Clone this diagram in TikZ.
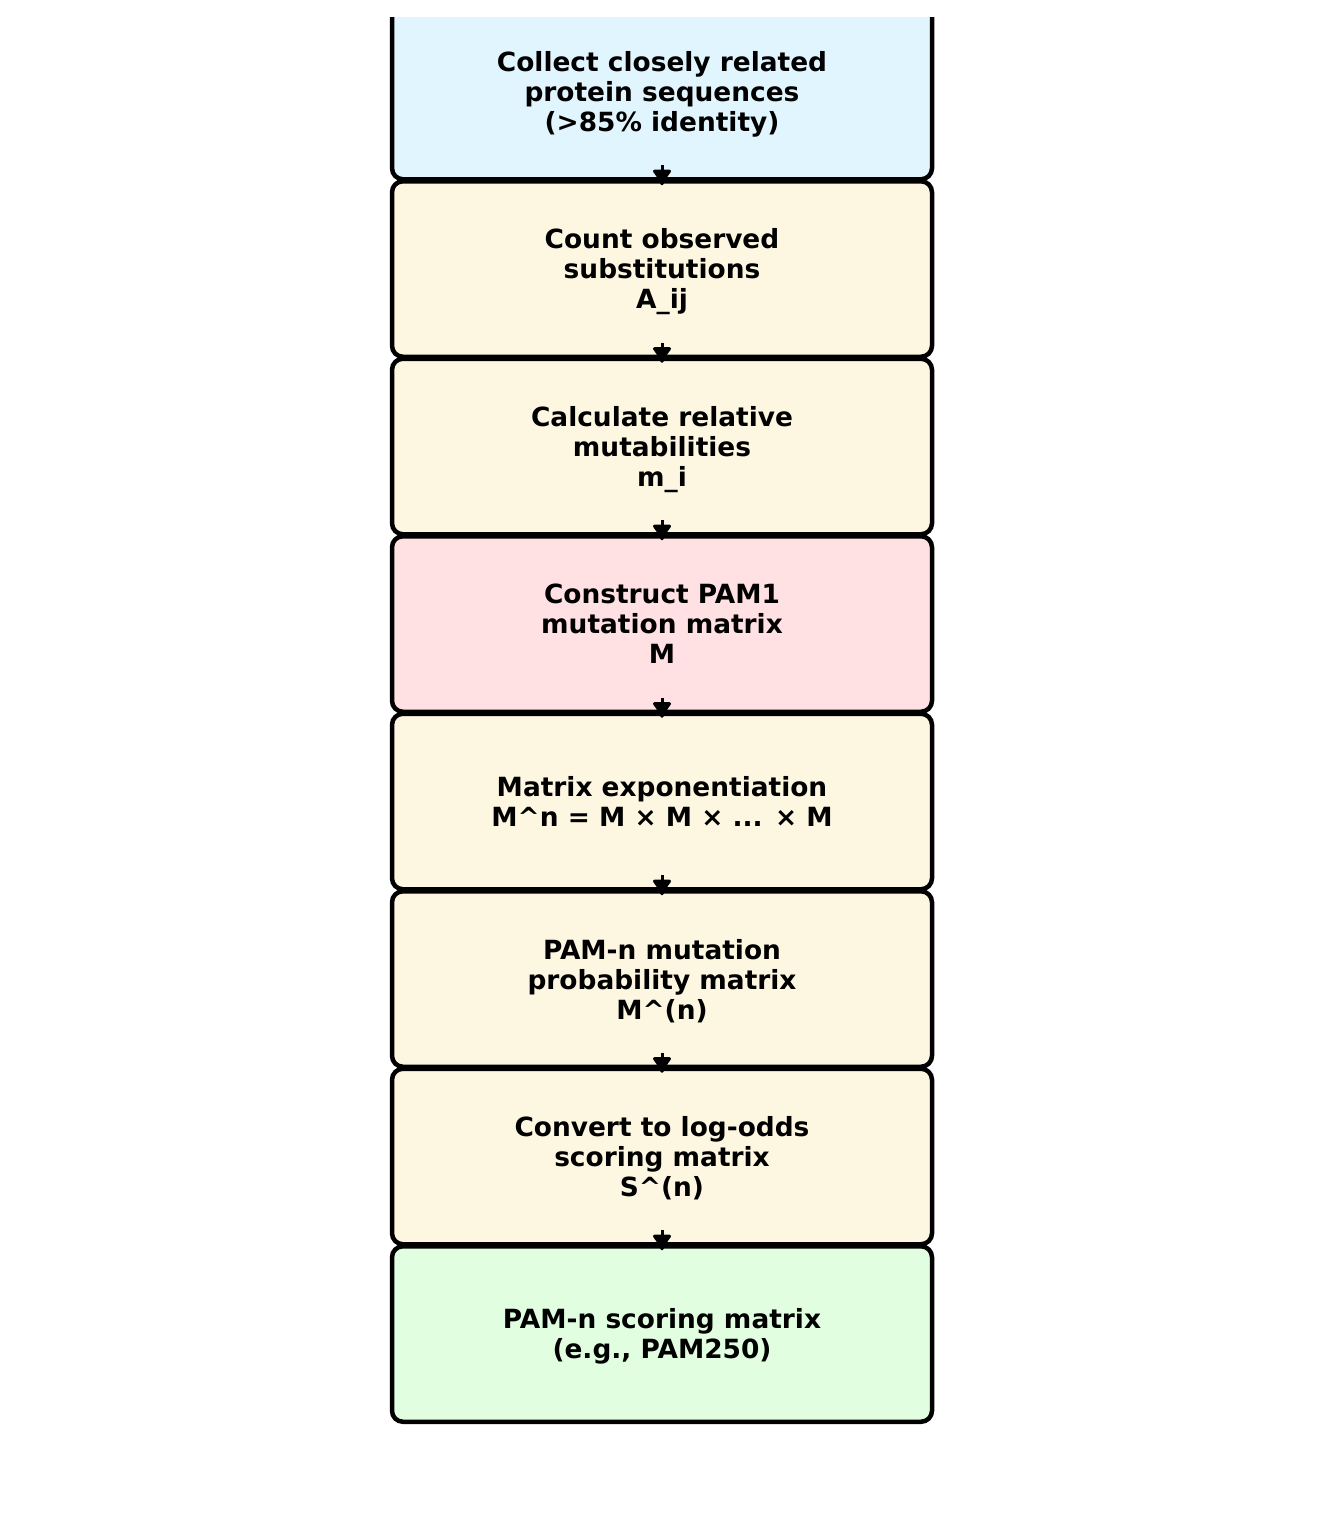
\documentclass[tikz,border=0pt]{standalone}
\usepackage{fontspec}
\setmainfont{DejaVu Sans}
\usetikzlibrary{arrows.meta}
\definecolor{cblue}{HTML}{E1F5FE}
\definecolor{cyel}{HTML}{FDF7E1}
\definecolor{cpink}{HTML}{FFE0E3}
\definecolor{cgreen}{HTML}{E1FFE0}
\tikzset{
  stepbox/.style={draw=black, line width=4.5pt, rounded corners=11pt,
    minimum width=540pt, minimum height=175.5pt, outer sep=0pt, inner sep=0pt},
  txt/.style={align=center, inner sep=0pt, text=black,
    font=\fontsize{26.4}{30}\selectfont\bfseries},
  arr/.style={-{Latex[length=18pt,width=22pt,round]}, line width=3pt}
}
\begin{document}
\begin{tikzpicture}[x=1pt,y=1pt]
\useasboundingbox (0,0) rectangle (1324,-1516);
\begin{scope}
\clip (0,-17) rectangle (1324,-1516);
\node[stepbox, fill=cblue, label={[txt,yshift=-3pt]center:{Collect closely related\\protein sequences\\(>85\% identity)}}] (b1) at (662,-91.5) {};
\end{scope}
\node[stepbox, fill=cyel, label={[txt,yshift=-3pt]center:{Count observed\\substitutions\\A\_ij}}] (b2) at (662,-269) {};
\node[stepbox, fill=cyel, label={[txt,yshift=-3pt]center:{Calculate relative\\mutabilities\\m\_i}}] (b3) at (662,-446.5) {};
\node[stepbox, fill=cpink, label={[txt]center:{Construct PAM1\\mutation matrix\\M}}] (b4) at (662,-624) {};
\node[stepbox, fill=cyel, label={[txt]center:{Matrix exponentiation\\M\textasciicircum n = M × M × ... × M}}] (b5) at (662,-801.5) {};
\node[stepbox, fill=cyel, label={[txt,yshift=-2pt]center:{PAM-n mutation\\probability matrix\\M\textasciicircum(n)}}] (b6) at (662,-979) {};
\node[stepbox, fill=cyel, label={[txt,yshift=-2pt]center:{Convert to log-odds\\scoring matrix\\S\textasciicircum(n)}}] (b7) at (662,-1156.5) {};
\node[stepbox, fill=cgreen, label={[txt,yshift=-2pt]center:{PAM-n scoring matrix\\(e.g., PAM250)}}] (b8) at (662,-1334) {};
\foreach \a/\b in {b1/b2,b2/b3,b3/b4,b4/b5,b5/b6,b6/b7,b7/b8}{
  \draw[arr] ([yshift=14pt]\a.south) -- ([yshift=-4pt]\b.north);
}
\end{tikzpicture}
\end{document}
